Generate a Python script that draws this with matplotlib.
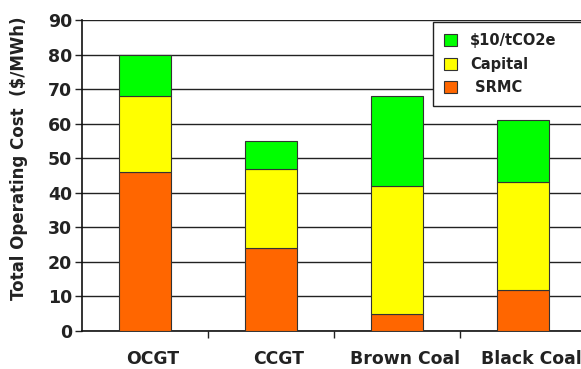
import numpy as np
import matplotlib
matplotlib.use('Agg')
import matplotlib.pyplot as plt
import matplotlib.transforms as mtransforms

# Data
categories = ['OCGT', 'CCGT', 'Brown Coal', 'Black Coal']
srmc = [46, 24, 5, 12]
capital = [22, 23, 37, 31]
carbon = [12, 8, 26, 18]

yticks = list(range(0, 100, 10))

colors = {'srmc': '#FF6600', 'capital': '#FFFF00', 'carbon': '#00FF00'}

plt.rcParams['font.family'] = 'DejaVu Sans'

fig = plt.figure(figsize=(5.81, 3.69), dpi=100)
# axes extends slightly past the right edge, like the reference
ax = fig.add_axes([82 / 581, 1 - 331 / 369, 504 / 581, 311 / 369])

x = np.arange(len(categories))
width = 0.41
srmc = np.array(srmc)
capital = np.array(capital)
carbon = np.array(carbon)

b1 = ax.bar(x, srmc, width, color=colors['srmc'], edgecolor='#333333', linewidth=0.8, zorder=3, label=' SRMC')
b2 = ax.bar(x, capital, width, bottom=srmc, color=colors['capital'], edgecolor='#333333', linewidth=0.8, zorder=3, label='Capital')
b3 = ax.bar(x, carbon, width, bottom=srmc + capital, color=colors['carbon'], edgecolor='#333333', linewidth=0.8, zorder=3, label='$10/tCO2e')

ax.set_xlim(-0.5, len(categories) - 0.5)
ax.set_ylim(0, 90)
ax.set_yticks(yticks)
ax.set_yticklabels([str(v) for v in yticks], fontsize=12.5, fontweight='bold', color='#222222')
ax.yaxis.grid(True, color='#222222', linewidth=1.0, zorder=0)
ax.set_axisbelow(True)

# category labels a bit right of the bars, ticks on boundaries
ax.set_xticks(x)
ax.set_xticklabels(categories, fontsize=12.4, fontweight='bold', color='#222222')
ax.tick_params(axis='x', which='major', length=0, pad=14)
shift = mtransforms.ScaledTranslation(8 / 100, 0, fig.dpi_scale_trans)
for lbl in ax.get_xticklabels():
    lbl.set_transform(lbl.get_transform() + shift)
ax.set_xticks(np.arange(0.5, len(categories) - 0.5, 1), minor=True)
ax.tick_params(axis='x', which='minor', length=5, width=1, color='#222222')
ax.tick_params(axis='y', length=5, width=1, color='#222222', pad=2)

for s in ['top', 'right']:
    ax.spines[s].set_visible(False)
ax.spines['left'].set_linewidth(1.2)
ax.spines['bottom'].set_linewidth(1.2)
ax.spines['left'].set_color('#111111')
ax.spines['bottom'].set_color('#111111')

ax.set_ylabel('Total Operating Cost  ($/MWh)', fontsize=12, fontweight='bold', color='#222222')
ax.yaxis.set_label_coords(-0.107, 0.556)

lg = fig.legend(handles=[b3, b2, b1], loc='upper left', mode='expand',
                bbox_to_anchor=(433 / 581, 1 - 107 / 369, 160 / 581, 85 / 369),
                bbox_transform=fig.transFigure,
                frameon=True, fancybox=False, shadow=False, fontsize=10.5, handlelength=0.9, handleheight=0.9,
                borderpad=0.75, labelspacing=0.6, handletextpad=0.9, borderaxespad=0, framealpha=1)
lg.get_frame().set_edgecolor('#222222')
lg.get_frame().set_linewidth(1.0)
for t in lg.get_texts():
    t.set_fontweight('bold')
    t.set_color('#222222')

fig.savefig('out.png', dpi=100)
